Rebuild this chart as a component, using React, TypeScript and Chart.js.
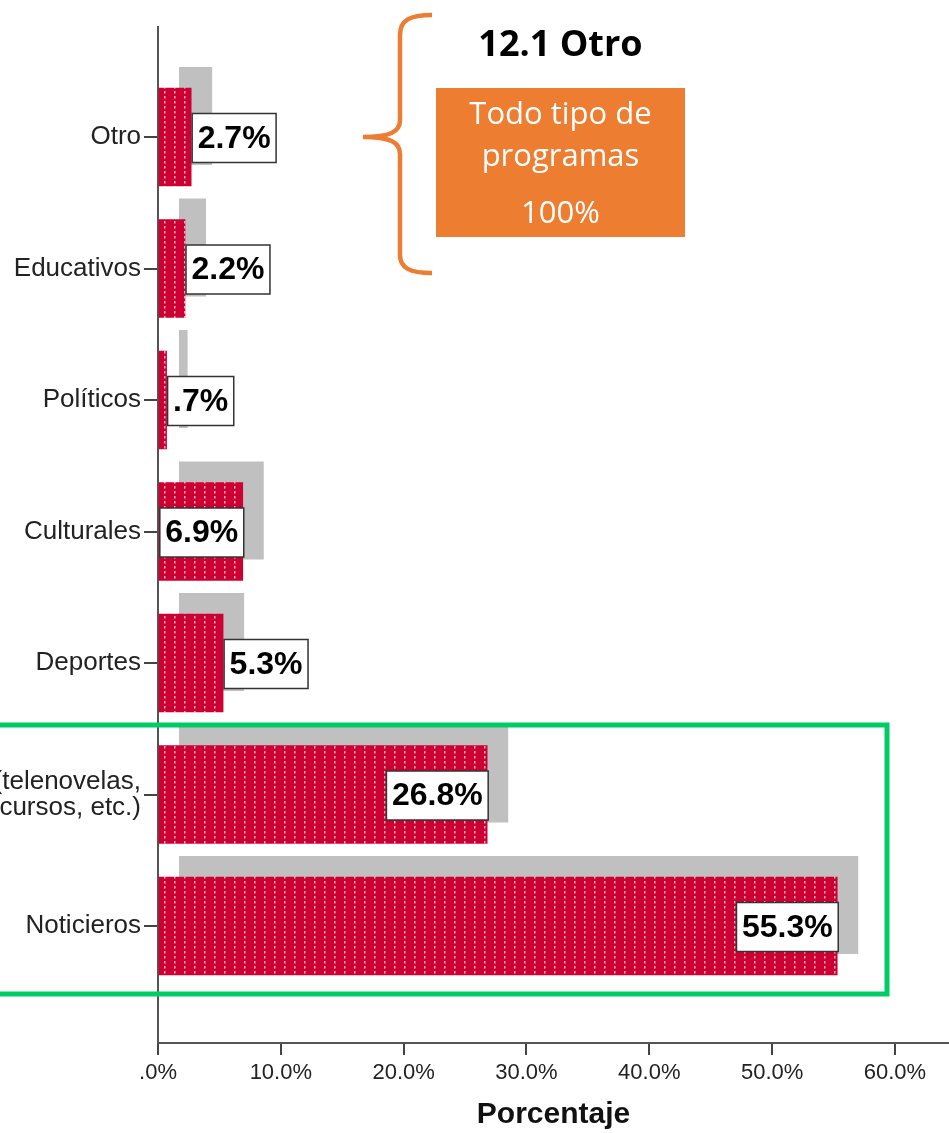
import React, { useEffect, useRef } from 'react';
import { Chart, registerables } from 'chart.js';

Chart.register(...registerables);

const categories: (string | string[])[] = [
  'Otro',
  'Educativos',
  'Políticos',
  'Culturales',
  'Deportes',
  ['Entretenimiento (telenovelas,', 'concursos, etc.)'],
  'Noticieros',
];
const percentages = [2.7, 2.2, 0.7, 6.9, 5.3, 26.8, 55.3];
const valueLabels = ['2.7%', '2.2%', '.7%', '6.9%', '5.3%', '26.8%', '55.3%'];
const xTickValues = [0, 10, 20, 30, 40, 50, 60];
const xTickLabels = ['.0%', '10.0%', '20.0%', '30.0%', '40.0%', '50.0%', '60.0%'];
const yTickValues = [0, 1, 2, 3, 4, 5, 6];

const FONT = '"Liberation Sans", Arial, sans-serif';
const RED = '#CC0033';
const GRAY = '#C0C0C0';

function makePattern(): CanvasPattern | string {
  const c = document.createElement('canvas');
  c.width = 10;
  c.height = 5;
  const g = c.getContext('2d');
  if (!g) return RED;
  g.fillStyle = RED;
  g.fillRect(0, 0, 10, 5);
  g.fillStyle = 'rgba(255,190,205,0.9)';
  g.fillRect(4, 1, 1.5, 2.5);
  const p = g.createPattern(c, 'repeat');
  return p || RED;
}

const shadowPlugin = {
  id: 'shadowBars',
  beforeDatasetsDraw(chart: any) {
    const ctx = chart.ctx;
    const meta = chart.getDatasetMeta(0);
    ctx.save();
    ctx.fillStyle = GRAY;
    meta.data.forEach((el: any) => {
      const { x, y, base, height } = el.getProps(['x', 'y', 'base', 'height'], true);
      const left = base + 20;
      const right = x + 21;
      ctx.fillRect(left, y - height / 2 - 21, Math.max(right - left, 0), height);
    });
    ctx.restore();
  },
};

const labelPlugin = {
  id: 'valueBoxes',
  afterDatasetsDraw(chart: any) {
    const ctx = chart.ctx;
    const meta = chart.getDatasetMeta(0);
    ctx.save();
    ctx.font = `bold 32px ${FONT}`;
    ctx.textAlign = 'center';
    ctx.textBaseline = 'middle';
    meta.data.forEach((el: any, i: number) => {
      const { x, y, base } = el.getProps(['x', 'y', 'base'], true);
      const text = valueLabels[i];
      const tw = ctx.measureText(text).width;
      const bw = tw + 11;
      const bh = 49;
      const barW = x - base;
      const left = barW >= bw - 6 ? Math.max(x - bw + 1, base - 1) : x + 1;
      const top = y - bh / 2 + 1;
      ctx.fillStyle = '#ffffff';
      ctx.fillRect(left, top, bw, bh);
      ctx.strokeStyle = '#333333';
      ctx.lineWidth = 1.5;
      ctx.strokeRect(left, top, bw, bh);
      ctx.fillStyle = '#000000';
      ctx.fillText(text, left + bw / 2, top + bh / 2 + 1);
    });
    ctx.restore();
  },
};

function BarChart() {
  const ref = useRef<HTMLCanvasElement | null>(null);
  useEffect(() => {
    if (!ref.current) return;
    const pattern = makePattern();
    const chart = new Chart(ref.current, {
      type: 'bar',
      data: {
        datasets: [
          {
            data: percentages.map((v, i) => ({ x: v, y: i })),
            backgroundColor: pattern as any,
            borderWidth: 0,
            barThickness: 98,
          },
        ],
      },
      options: {
        indexAxis: 'y',
        animation: false,
        responsive: false,
        layout: { padding: { top: 27, left: 0, right: 0, bottom: 0 } },
        plugins: { legend: { display: false }, tooltip: { enabled: false } },
        scales: {
          x: {
            type: 'linear',
            min: 0,
            max: 64.4,
            offset: false,
            afterBuildTicks: (s: any) => {
              s.ticks = xTickValues.map((v) => ({ value: v }));
            },
            afterFit: (s: any) => {
              s.height = 90;
            },
            grid: { offset: false, drawOnChartArea: false, drawTicks: true, tickLength: 12, color: '#444', lineWidth: 2 },
            border: { display: true, color: '#555', width: 2 },
            ticks: {
              autoSkip: false,
              maxRotation: 0,
              padding: 5,
              color: '#222',
              font: { family: FONT, size: 22 },
              callback: (_v: any, i: number) => xTickLabels[i],
            },
            title: {
              display: true,
              text: 'Porcentaje',
              color: '#111',
              font: { family: FONT, size: 30, weight: 'bold' },
              padding: 0,
            },
          },
          y: {
            type: 'linear',
            reverse: true,
            offset: false,
            min: -0.8365,
            max: 6.8897,
            afterBuildTicks: (s: any) => {
              s.ticks = yTickValues.map((v) => ({ value: v }));
            },
            afterFit: (s: any) => {
              s.width = 158;
            },
            grid: { offset: false, drawOnChartArea: false, drawTicks: true, tickLength: 14, color: '#444', lineWidth: 2 },
            border: { display: true, color: '#555', width: 2 },
            ticks: {
              autoSkip: false,
              padding: 3,
              color: '#222',
              font: { family: FONT, size: 26, lineHeight: 1.0 },
              callback: (v: any) => categories[v as number] as any,
            },
          },
        },
      },
      plugins: [shadowPlugin, labelPlugin],
    });
    return () => chart.destroy();
  }, []);
  return (
    <canvas
      ref={ref}
      width={949}
      height={1133}
      style={{ position: 'absolute', left: 0, top: 0, width: 949, height: 1133 }}
    />
  );
}

export default function App() {
  const orange = '#ED7D31';
  return (
    <div style={{ position: 'absolute', left: 0, top: 0, width: 949, height: 1133, overflow: 'hidden', background: '#fff' }}>
      <BarChart />
      <svg
        width={949}
        height={1133}
        style={{ position: 'absolute', left: 0, top: 0, pointerEvents: 'none' }}
      >
        <rect x={-10} y={725} width={897} height={269} fill="none" stroke="#00CC66" strokeWidth={5} />
        <path
          d="M 432 15 C 410 15 400 20 400 35 L 400 120 C 400 132 390 137 363 137 C 390 137 400 142 400 154 L 400 255 C 400 268 410 273 432 273"
          fill="none"
          stroke={orange}
          strokeWidth={4.5}
        />
      </svg>
      <div
        style={{
          position: 'absolute',
          left: 436,
          top: 20,
          width: 249,
          lineHeight: '46px',
          textAlign: 'center',
          fontFamily: '"Open Sans", sans-serif',
          fontWeight: 700,
          fontSize: 36,
          color: '#000',
        }}
      >
        12.1 Otro
      </div>
      <div
        style={{
          position: 'absolute',
          left: 436,
          top: 88,
          width: 249,
          height: 149,
          background: orange,
          color: '#fff',
          fontFamily: '"Open Sans", sans-serif',
          fontSize: 31,
          textAlign: 'center',
        }}
      >
        <div style={{ position: 'absolute', left: 0, width: 249, top: 4, lineHeight: '40px' }}>Todo tipo de</div>
        <div style={{ position: 'absolute', left: 0, width: 249, top: 46, lineHeight: '40px' }}>programas</div>
        <div style={{ position: 'absolute', left: 0, width: 249, top: 103, lineHeight: '40px' }}>100%</div>
      </div>
    </div>
  );
}
